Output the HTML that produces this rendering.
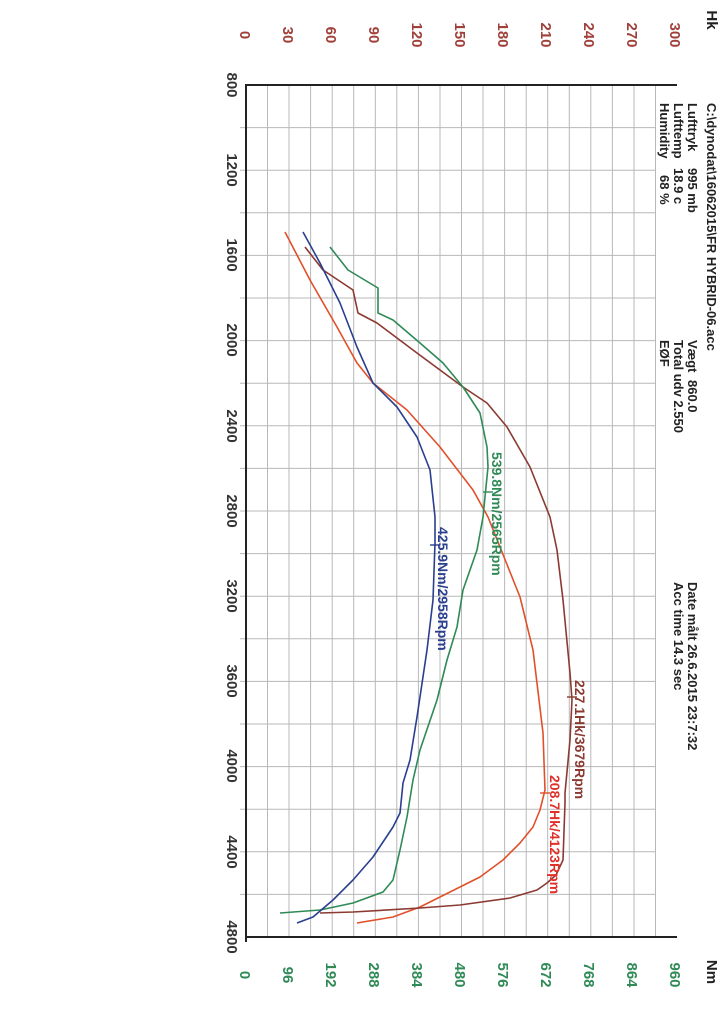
<!DOCTYPE html>
<html><head><meta charset="utf-8"><style>
html,body{margin:0;padding:0;background:#fff;}
svg{display:block;font-family:"Liberation Sans",sans-serif;}
</style></head><body>
<svg width="725" height="1024" viewBox="0 0 725 1024" xmlns="http://www.w3.org/2000/svg">
<rect width="725" height="1024" fill="#fff"/>
<g stroke="#b8b8b8" stroke-width="1">
<line x1="267.5" y1="85" x2="267.5" y2="937"/><line x1="289" y1="85" x2="289" y2="937"/><line x1="310.6" y1="85" x2="310.6" y2="937"/><line x1="332.2" y1="85" x2="332.2" y2="937"/><line x1="353.7" y1="85" x2="353.7" y2="937"/><line x1="375.3" y1="85" x2="375.3" y2="937"/><line x1="396.8" y1="85" x2="396.8" y2="937"/><line x1="418.4" y1="85" x2="418.4" y2="937"/><line x1="440" y1="85" x2="440" y2="937"/><line x1="461.5" y1="85" x2="461.5" y2="937"/><line x1="483" y1="85" x2="483" y2="937"/><line x1="504.6" y1="85" x2="504.6" y2="937"/><line x1="526.2" y1="85" x2="526.2" y2="937"/><line x1="547.7" y1="85" x2="547.7" y2="937"/><line x1="569.3" y1="85" x2="569.3" y2="937"/><line x1="590.8" y1="85" x2="590.8" y2="937"/><line x1="612.4" y1="85" x2="612.4" y2="937"/><line x1="634" y1="85" x2="634" y2="937"/><line x1="655.5" y1="85" x2="655.5" y2="937"/>
<line x1="240" y1="127.6" x2="655" y2="127.6"/><line x1="240" y1="170.2" x2="655" y2="170.2"/><line x1="240" y1="212.8" x2="655" y2="212.8"/><line x1="240" y1="255.4" x2="655" y2="255.4"/><line x1="240" y1="298" x2="655" y2="298"/><line x1="240" y1="340.6" x2="655" y2="340.6"/><line x1="240" y1="383.2" x2="655" y2="383.2"/><line x1="240" y1="425.8" x2="655" y2="425.8"/><line x1="240" y1="468.4" x2="655" y2="468.4"/><line x1="240" y1="511" x2="655" y2="511"/><line x1="240" y1="553.6" x2="655" y2="553.6"/><line x1="240" y1="596.2" x2="655" y2="596.2"/><line x1="240" y1="638.8" x2="655" y2="638.8"/><line x1="240" y1="681.4" x2="655" y2="681.4"/><line x1="240" y1="724" x2="655" y2="724"/><line x1="240" y1="766.6" x2="655" y2="766.6"/><line x1="240" y1="809.2" x2="655" y2="809.2"/><line x1="240" y1="851.8" x2="655" y2="851.8"/><line x1="240" y1="894.4" x2="655" y2="894.4"/>
</g>
<g stroke="#222" stroke-width="2" fill="none">
<line x1="246" y1="84" x2="246" y2="942"/>
<line x1="246" y1="85" x2="677" y2="85"/>
<line x1="246" y1="937" x2="677" y2="937"/>
</g>
<g fill="none" stroke-width="1.6" stroke-linejoin="round">
<polyline stroke="#e0502a" points="285,232 310,280 337,327 357,363 373,383 407,410 440,447 473,490 488,517 520,597 533,650 543,733 545,790 540,810 533,827 520,843 503,860 480,877 460,887 420,907 393,917 357,923"/>
<polyline stroke="#8b3a32" points="305,247 323,270 353,290 358,313 377,323 417,353 463,387 487,403 507,427 530,467 550,517 557,550 563,600 570,673 572,700 570,740 565,793 565,803 563,860 556,875 547,883 537,890 510,898 460,905 420,908 353,912 320,913"/>
<polyline stroke="#2f8a56" points="330,247 348,270 378,288 378,313 393,320 420,343 443,363 463,387 480,413 487,447 488,467 483,517 477,550 463,590 457,627 447,660 437,700 420,750 413,780 407,817 400,850 393,880 383,892 353,903 320,910 280,913"/>
<polyline stroke="#2a3f8f" points="303,232 320,263 340,303 357,347 373,383 397,407 417,437 430,470 435,517 435,543 433,600 427,650 417,717 410,760 403,783 400,813 393,827 373,857 353,880 333,900 313,917 297,923"/>
</g>
<g stroke-width="1.4">
<line x1="483" y1="492" x2="493" y2="492" stroke="#2f8a56"/>
<line x1="430" y1="545" x2="440" y2="545" stroke="#2a3f8f"/>
<line x1="567" y1="697" x2="577" y2="697" stroke="#8b3a32"/>
<line x1="540" y1="793" x2="550" y2="793" stroke="#e0502a"/>
</g>
<g font-weight="bold" font-size="14">
<text transform="translate(492,452) rotate(90)" fill="#2f8a56">539.8Nm/2565Rpm</text>
<text transform="translate(438,527) rotate(90)" fill="#2a3f8f">425.9Nm/2958Rpm</text>
<text transform="translate(575,680) rotate(90)" fill="#8b3a32">227.1Hk/3679Rpm</text>
<text transform="translate(550,775) rotate(90)" fill="#e0302a">208.7Hk/4123Rpm</text>
</g>
<g font-weight="bold" font-size="15" fill="#a0403a" text-anchor="middle">
<text transform="translate(240,35) rotate(90)">0</text>
<text transform="translate(283,35) rotate(90)">30</text>
<text transform="translate(326,35) rotate(90)">60</text>
<text transform="translate(369,35) rotate(90)">90</text>
<text transform="translate(412,35) rotate(90)">120</text>
<text transform="translate(455,35) rotate(90)">150</text>
<text transform="translate(498,35) rotate(90)">180</text>
<text transform="translate(541,35) rotate(90)">210</text>
<text transform="translate(584,35) rotate(90)">240</text>
<text transform="translate(627,35) rotate(90)">270</text>
<text transform="translate(670,35) rotate(90)">300</text>
</g>
<text transform="translate(707,20) rotate(90)" text-anchor="middle" font-weight="bold" font-size="15" fill="#222">Hk</text>
<g font-weight="bold" font-size="15" fill="#2f8a56" text-anchor="middle">
<text transform="translate(240,975) rotate(90)">0</text>
<text transform="translate(283,975) rotate(90)">96</text>
<text transform="translate(326,975) rotate(90)">192</text>
<text transform="translate(369,975) rotate(90)">288</text>
<text transform="translate(412,975) rotate(90)">384</text>
<text transform="translate(455,975) rotate(90)">480</text>
<text transform="translate(498,975) rotate(90)">576</text>
<text transform="translate(541,975) rotate(90)">672</text>
<text transform="translate(584,975) rotate(90)">768</text>
<text transform="translate(627,975) rotate(90)">864</text>
<text transform="translate(670,975) rotate(90)">960</text>
</g>
<text transform="translate(707,972) rotate(90)" text-anchor="middle" font-weight="bold" font-size="15" fill="#222">Nm</text>
<g font-weight="bold" font-size="15" fill="#333" text-anchor="middle">
<text transform="translate(227,85) rotate(90)">800</text>
<text transform="translate(227,170) rotate(90)">1200</text>
<text transform="translate(227,255) rotate(90)">1600</text>
<text transform="translate(227,340) rotate(90)">2000</text>
<text transform="translate(227,426) rotate(90)">2400</text>
<text transform="translate(227,511) rotate(90)">2800</text>
<text transform="translate(227,596) rotate(90)">3200</text>
<text transform="translate(227,681) rotate(90)">3600</text>
<text transform="translate(227,766) rotate(90)">4000</text>
<text transform="translate(227,852) rotate(90)">4400</text>
<text transform="translate(227,937) rotate(90)">4800</text>
</g>
<g font-size="13" fill="#222" font-weight="bold">
<text transform="translate(707,103) rotate(90)">C:\dynodat\16062015\FR HYBRID-06.acc</text>
<text transform="translate(688,103) rotate(90)">Lufttryk</text>
<text transform="translate(688,168) rotate(90)">995 mb</text>
<text transform="translate(674,103) rotate(90)">Lufttemp</text>
<text transform="translate(674,168) rotate(90)">18.9 c</text>
<text transform="translate(660,103) rotate(90)">Humidity</text>
<text transform="translate(660,175) rotate(90)">68 %</text>
<text transform="translate(688,340) rotate(90)">Vægt</text>
<text transform="translate(688,380) rotate(90)">860.0</text>
<text transform="translate(674,340) rotate(90)">Total udv 2.550</text>
<text transform="translate(660,340) rotate(90)">EØF</text>
<text transform="translate(688,582) rotate(90)">Date målt 26.6.2015 23:7:32</text>
<text transform="translate(674,582) rotate(90)">Acc time  14.3 sec</text>
</g>
</svg>
</body></html>
